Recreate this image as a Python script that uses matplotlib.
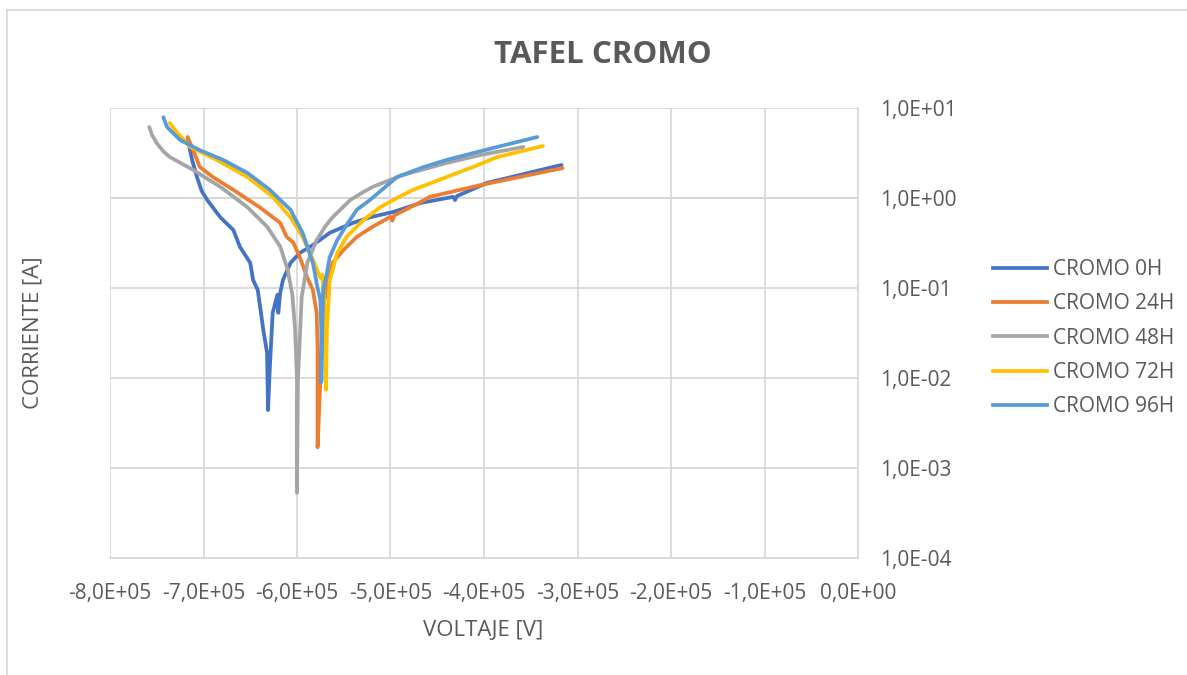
import numpy as np
import matplotlib
matplotlib.use("Agg")
import matplotlib.pyplot as plt
from matplotlib.ticker import FixedLocator, NullLocator
from matplotlib.lines import Line2D

plt.rcParams['font.family'] = ['Open Sans', 'DejaVu Sans']

series_names = ["CROMO 0H", "CROMO 24H", "CROMO 48H", "CROMO 72H", "CROMO 96H"]
series_colors = ["#4472C4", "#ED7D31", "#A5A5A5", "#FFC000", "#5B9BD5"]

# Voltage in units of 1e5 V, current in A
v_0h = [-7.17, -7.12, -7.07, -7.02, -6.96, -6.82, -6.68, -6.61, -6.50, -6.47, -6.42, -6.40, -6.36, -6.32, -6.31,
        -6.29, -6.26, -6.21, -6.20, -6.18, -6.15, -6.07, -5.97, -5.83, -5.65, -5.40, -5.22, -4.97,
        -4.68, -4.33, -4.31, -4.29, -3.97, -3.17]
i_0h = [4.6, 2.6, 1.71, 1.2, 0.95, 0.61, 0.44, 0.286, 0.19, 0.123, 0.095, 0.068, 0.034, 0.019, 0.0044,
        0.0133, 0.053, 0.084, 0.053, 0.088, 0.123, 0.19, 0.245, 0.30, 0.41, 0.53, 0.61, 0.70,
        0.88, 1.03, 0.95, 1.05, 1.47, 2.33]

v_24h = [-7.17, -7.11, -7.04, -6.90, -6.68, -6.40, -6.18, -6.11, -6.04, -5.97, -5.89, -5.83, -5.79,
         -5.78, -5.78, -5.75, -5.72, -5.68, -5.62, -5.51, -5.36, -5.19, -5.00, -4.98, -4.96,
         -4.68, -4.58, -4.04, -3.16]
i_24h = [4.76, 3.4, 2.21, 1.71, 1.23, 0.79, 0.53, 0.37, 0.32, 0.22, 0.13, 0.095, 0.053,
         0.022, 0.0017, 0.0095, 0.061, 0.10, 0.19, 0.26, 0.37, 0.48, 0.62, 0.56, 0.64,
         0.90, 1.03, 1.39, 2.15]

v_48h = [-7.58, -7.55, -7.50, -7.43, -7.36, -7.11, -6.82, -6.53, -6.32, -6.18, -6.10, -6.05, -6.02, -6.00, -6.00,
         -5.99, -5.95, -5.89, -5.79, -5.70, -5.62, -5.43, -5.30, -5.19, -4.87, -4.40, -4.04, -3.58]
i_48h = [6.15, 5.0, 4.08, 3.3, 2.85, 2.05, 1.33, 0.79, 0.48, 0.29, 0.16, 0.084, 0.034, 0.0095, 0.00053,
         0.0095, 0.079, 0.19, 0.34, 0.48, 0.61, 0.95, 1.15, 1.33, 1.80, 2.45, 3.0, 3.69]

v_72h = [-7.36, -7.28, -7.14, -6.86, -6.53, -6.26, -6.07, -5.94, -5.83, -5.75, -5.73, -5.70, -5.69,
         -5.68, -5.65, -5.57, -5.47, -5.29, -5.11, -4.93, -4.76, -4.40, -4.10, -3.86, -3.37]
i_72h = [6.8, 5.3, 3.69, 2.65, 1.71, 1.03, 0.61, 0.37, 0.205, 0.13, 0.14, 0.053, 0.0074,
         0.034, 0.12, 0.245, 0.37, 0.57, 0.79, 1.0, 1.23, 1.71, 2.25, 2.85, 3.78]

v_96h = [-7.43, -7.39, -7.25, -7.04, -6.79, -6.53, -6.29, -6.07, -5.94, -5.83, -5.78, -5.75, -5.74,
         -5.74, -5.73, -5.72, -5.68, -5.65, -5.57, -5.46, -5.36, -5.22, -4.93, -4.65, -4.40, -3.86, -3.43]
i_96h = [7.9, 6.15, 4.41, 3.4, 2.65, 1.90, 1.23, 0.74, 0.41, 0.19, 0.10, 0.074, 0.034,
         0.009, 0.034, 0.095, 0.147, 0.22, 0.34, 0.52, 0.74, 0.95, 1.71, 2.2, 2.65, 3.69, 4.76]

x_ticks = [-8e5, -7e5, -6e5, -5e5, -4e5, -3e5, -2e5, -1e5, 0]
x_tick_labels = ["-8,0E+05", "-7,0E+05", "-6,0E+05", "-5,0E+05", "-4,0E+05",
                 "-3,0E+05", "-2,0E+05", "-1,0E+05", "0,0E+00"]
y_ticks = [1e-4, 1e-3, 1e-2, 1e-1, 1e0, 1e1]
y_tick_labels = ["1,0E-04", "1,0E-03", "1,0E-02", "1,0E-01", "1,0E+00", "1,0E+01"]

title = "TAFEL CROMO"
x_label = "VOLTAJE [V]"
y_label = "CORRIENTE [A]"

W, H = 1187, 675
fig = plt.figure(figsize=(W / 100, H / 100), dpi=100)
ax = fig.add_axes([110 / W, 1 - 558 / H, 748 / W, 450 / H])

grid_c = "#D9D9D9"
text_c = "#595959"

volts = [v_0h, v_24h, v_48h, v_72h, v_96h]
currents = [i_0h, i_24h, i_48h, i_72h, i_96h]
for v, c, name, col in zip(volts, currents, series_names, series_colors):
    ax.plot(np.array(v) * 1e5, c, color=col, lw=2.7, label=name,
            solid_capstyle="round", solid_joinstyle="round", zorder=3)

ax.set_yscale("log")
ax.set_xlim(-8e5, 0)
ax.set_ylim(1e-4, 1e1)
ax.xaxis.set_major_locator(FixedLocator(x_ticks))
ax.yaxis.set_major_locator(FixedLocator(y_ticks))
ax.yaxis.set_minor_locator(NullLocator())
ax.set_xticklabels(x_tick_labels)
ax.set_yticklabels(y_tick_labels)
ax.yaxis.tick_right()
ax.tick_params(axis="both", length=0, labelsize=15, labelcolor=text_c)
ax.tick_params(axis="x", pad=18)
ax.tick_params(axis="y", pad=16)
for lab in ax.get_yticklabels():
    lab.set_horizontalalignment("left")

ax.grid(True, which="major", color=grid_c, lw=1.3, zorder=0)
for s in ["top", "left"]:
    ax.spines[s].set_visible(False)
ax.spines["bottom"].set_color(grid_c)
ax.spines["bottom"].set_linewidth(1.3)
ax.spines["right"].set_color(grid_c)
ax.spines["right"].set_linewidth(1.3)
ax.axhline(1.0, color="#BFBFBF", lw=1.3, zorder=1)

fig.text(603 / W, 1 - 55 / H, title, ha="center", va="center",
         fontsize=22.5, fontweight="bold", color=text_c)
fig.text(483 / W, 1 - 630 / H, x_label, ha="center", va="center",
         fontsize=16, color=text_c)
fig.text(33 / W, 1 - 333 / H, y_label, ha="center", va="center",
         rotation=90, fontsize=16, color=text_c)

handles = [Line2D([0], [0], color=col, lw=2.7) for col in series_colors]
fig.legend(handles, series_names, loc="upper left",
           bbox_to_anchor=(993 / W, 1 - 259 / H), frameon=False,
           fontsize=15, labelcolor=text_c, handlelength=2.6, handletextpad=0.3,
           labelspacing=0.64, borderpad=0, borderaxespad=0)

# chart border
fig.add_artist(Line2D([7 / W, 7 / W], [0, 1 - 10 / H], color=grid_c, lw=1.3,
                      transform=fig.transFigure))
fig.add_artist(Line2D([7 / W, 1], [1 - 10 / H, 1 - 10 / H], color=grid_c, lw=1.3,
                      transform=fig.transFigure))

fig.savefig("out.png", dpi=100)
